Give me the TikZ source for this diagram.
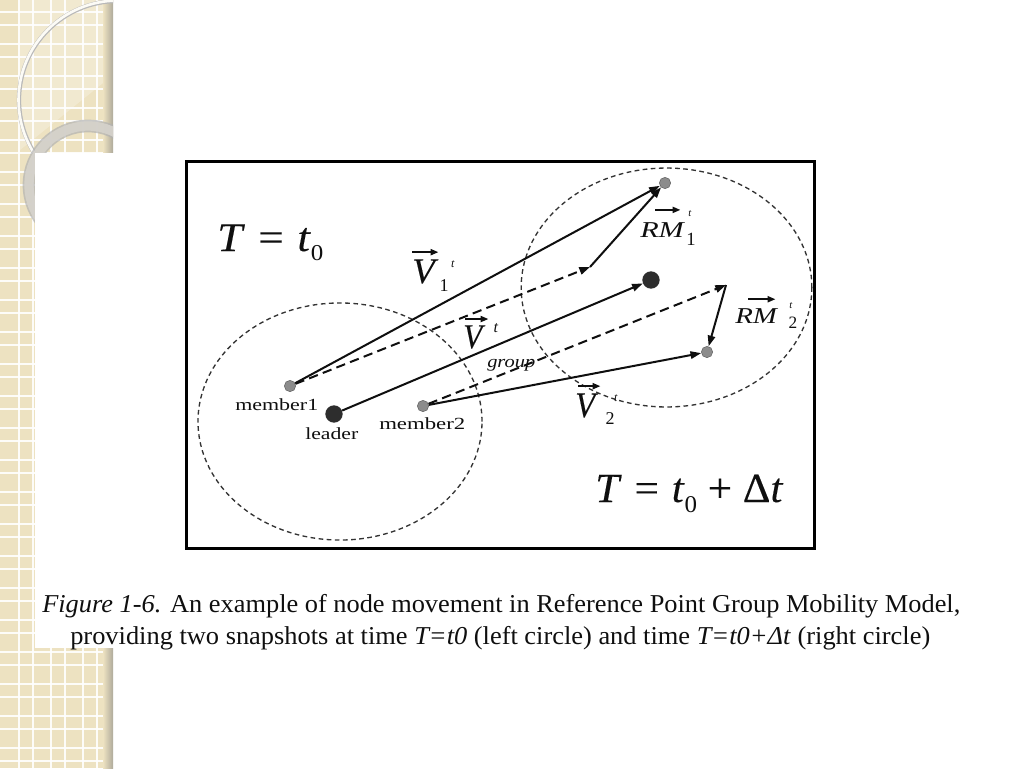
\documentclass[tikz,border=0pt]{standalone}
\usepackage{graphicx}
\usepackage{fontspec}
\setmainfont{Liberation Serif}
\usetikzlibrary{arrows.meta,calc}
\definecolor{beige}{RGB}{237,226,193}
\definecolor{shadowc}{RGB}{175,170,155}
\definecolor{bandc}{RGB}{214,211,204}
\definecolor{dotg}{RGB}{140,140,140}
\definecolor{dotd}{RGB}{45,45,45}
\definecolor{ink}{RGB}{15,15,15}
\newcommand\fitw[2]{\resizebox{#1}{\height}{#2}}
\newcommand\fbd{\addfontfeature{FakeBold=0.2}}
\tikzset{
  gridl/.style={white, line width=1.1pt, opacity=0.9},
  mdot/.style={circle, fill=dotg, draw=dotg!70!black, line width=0.4pt, minimum size=8.5pt, inner sep=0pt},
  ldot/.style={circle, fill=dotd, minimum size=13pt, inner sep=0pt},
  sarrow/.style={ink, line width=1.5pt, -{Triangle[length=8pt,width=5.5pt]}},
  darrow/.style={ink, line width=1.5pt, dash pattern=on 7pt off 4pt, -{Triangle[length=8pt,width=5.5pt]}},
  varrow/.style={ink, line width=1.5pt, -{Triangle[length=6pt,width=4.5pt]}},
  dcircle/.style={ink!85, line width=1pt, dash pattern=on 3.5pt off 2.6pt},
  lbl/.style={inner sep=0pt, anchor=base west, text=ink},
  sc/.style={inner sep=0pt, anchor=center, text=ink},
}
\begin{document}
\begin{tikzpicture}[x=0.75pt, y=-0.75pt]
\useasboundingbox (0,0) rectangle (1024,768);
\fill[white] (0,0) rectangle (1024,768);
% decorative strip
\fill[beige] (0,0) rectangle (113,768);
\fill[white, opacity=0.25] (20,0) -- (113,0) -- (113,75) -- (20,150) -- cycle;
\foreach \x in {19,51,83} {
  \draw[gridl] (\x,0) -- (\x,768);
  \draw[gridl] (\x+14,0) -- (\x+14,768);
}
\foreach \k in {0,...,23} {
  \draw[gridl] (0,12+32*\k) -- (113,12+32*\k);
  \draw[gridl] (0,25+32*\k) -- (113,25+32*\k);
}
\shade[left color=beige, right color=shadowc] (103,0) rectangle (113,768);
\begin{scope}
  \clip (0,0) rectangle (113,768);
  \draw[gray!55, line width=3.2pt] (118,100) circle[radius=74.25pt];
  \draw[white!85!beige, line width=2pt] (118,100) circle[radius=74.6pt];
  \draw[gray!60, line width=9.5pt, opacity=0.7] (88,185) circle[radius=44.25pt];
  \draw[bandc, line width=7pt, opacity=0.9] (88,185) circle[radius=44.25pt];
\end{scope}
\fill[white] (35,153) rectangle (120,648);
% figure frame
\draw[black, line width=2.25pt] (186.5,161.5) rectangle (814.5,548.5);
% dashed group circles
\draw[dcircle] (340,421.5) ellipse [x radius=106.5pt, y radius=88.9pt];
\draw[dcircle] (666.5,287.5) ellipse [x radius=109pt, y radius=89.6pt];
% nodes
\node[mdot] (m1) at (290,386) {};
\node[ldot] (ld) at (334,414) {};
\node[mdot] (m2) at (423,406) {};
\node[mdot] (m1b) at (665,183) {};
\node[ldot] (ldb) at (651,280) {};
\node[mdot] (m2b) at (707,352) {};
\coordinate (r1) at (590,267);
\coordinate (r2) at (726,285);
% connectors
\draw[sarrow] (m1) -- (m1b);
\draw[darrow] (m1) -- (r1);
\draw[sarrow] (ld) -- (ldb);
\draw[darrow] (m2) -- (r2);
\draw[sarrow] (m2) -- (m2b);
\draw[sarrow] (r1) -- (m1b);
\draw[sarrow] (r2) -- (m2b);
% time labels
\node[lbl] (tz) at (217,251) {\fitw{79.5pt}{\fontsize{30.6}{33}\selectfont{\fbd\textit{T}\hspace{.3em}=\hspace{.3em}\textit{t}}\raisebox{-6.75pt}{\fontsize{17}{18}\selectfont 0}}};
\node[lbl] (tdt) at (595,502) {\fitw{141pt}{\fontsize{31}{33}\selectfont{\fbd\textit{T}\hspace{.3em}=\hspace{.3em}\textit{t}}\raisebox{-7.5pt}{\fontsize{18}{19}\selectfont 0}{\fbd\hspace{.25em}+\hspace{.25em}Δ\textit{t}}}};
% member labels
\node[lbl] (lm1) at (235,410) {\fitw{62.25pt}{\fontsize{12.75}{14}\selectfont member1}};
\node[lbl] (lld) at (305,439) {\fitw{39.75pt}{\fontsize{12.75}{14}\selectfont leader}};
\node[lbl] (lm2) at (379,429) {\fitw{64.5pt}{\fontsize{12.75}{14}\selectfont member2}};
% vector labels
\node[lbl] (v1) at (412,283) {\fitw{19.5pt}{\fontsize{27}{29}\selectfont\fbd\textit{V}}};
\draw[varrow] ([yshift=5.25pt]v1.north west) -- ([yshift=5.25pt]v1.north east);
\node[sc] (v1s) at (444,286) {\fontsize{13.5}{14}\selectfont 1};
\node[sc] (v1t) at (453,264) {\fontsize{9}{10}\selectfont\textit{t}};
\node[lbl] (vg) at (463,348) {\fitw{16.5pt}{\fontsize{26}{28}\selectfont\fbd\textit{V}}};
\draw[varrow] ([xshift=1.5pt,yshift=4.5pt]vg.north west) -- ([xshift=2.25pt,yshift=4.5pt]vg.north east);
\node[sc] (vgt) at (496,328) {\fontsize{12}{13}\selectfont\textit{t}};
\node[lbl] (vgg) at (487,367) {\fitw{36pt}{\fontsize{13}{14}\selectfont\textit{group}}};
\node[lbl] (v2) at (575,417) {\fitw{17.25pt}{\fontsize{27}{29}\selectfont\fbd\textit{V}}};
\draw[varrow] ([xshift=2.25pt,yshift=5.25pt]v2.north west) -- ([xshift=1.5pt,yshift=5.25pt]v2.north east);
\node[sc] (v2s) at (610,418.5) {\fontsize{13.5}{14}\selectfont 2};
\node[sc] (v2t) at (616,398) {\fontsize{9}{10}\selectfont\textit{t}};
\node[lbl] (rm1) at (640,237) {\fitw{33.75pt}{\fontsize{17}{18}\selectfont\textit{RM}}};
\draw[varrow] ([xshift=11.25pt,yshift=9pt]rm1.north west) -- ([xshift=-3.75pt,yshift=9pt]rm1.north east);
\node[sc] (rm1t) at (690,214) {\fontsize{8}{9}\selectfont\textit{t}};
\node[sc] (rm1s) at (691,239) {\fontsize{14}{15}\selectfont 1};
\node[lbl] (rm2) at (735,323) {\fitw{32.25pt}{\fontsize{17}{18}\selectfont\textit{RM}}};
\draw[varrow] ([xshift=9.75pt,yshift=6.5pt]rm2.north west) -- ([xshift=-2.25pt,yshift=6.5pt]rm2.north east);
\node[sc] (rm2t) at (791,306) {\fontsize{8}{9}\selectfont\textit{t}};
\node[sc] (rm2s) at (793,322.5) {\fontsize{13}{14}\selectfont 2};
% caption
\node[lbl] (cap1) at (42,612) {\fitw{688.5pt}{\fontsize{19.3}{22}\selectfont\textit{Figure 1-6.} An example of node movement in Reference Point Group Mobility Model,}};
\node[lbl] (cap2) at (70,644) {\fitw{645pt}{\fontsize{19.3}{22}\selectfont providing two snapshots at time \textit{T=t0} (left circle) and time \textit{T=t0+Δt} (right circle)}};
\end{tikzpicture}
\end{document}
